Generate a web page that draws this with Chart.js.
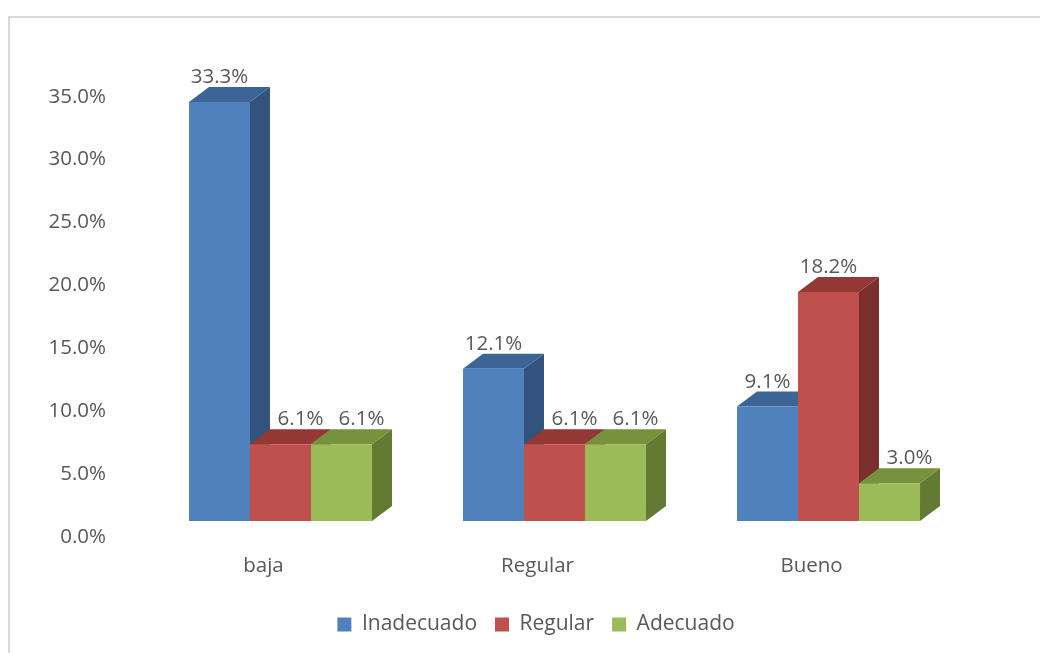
<!DOCTYPE html>
<html><head><meta charset="utf-8">
<script src="https://cdn.jsdelivr.net/npm/chart.js@4.4.0/dist/chart.umd.min.js"></script>
<style>
html,body{margin:0;padding:0;background:#fff;}
#wrap{position:relative;width:1040px;height:653px;overflow:hidden;}
#frame{position:absolute;left:8px;top:16px;width:1056px;height:700px;border:2px solid #d9d9d9;box-sizing:border-box;}
canvas{position:absolute;left:0;top:0;}
</style></head><body>
<div id="wrap"><div id="frame"></div><canvas id="c" width="1040" height="653"></canvas></div>
<script>
const categories = ['baja', 'Regular', 'Bueno'];
const seriesNames = ['Inadecuado', 'Regular', 'Adecuado'];
const inadecuado = [33.3, 12.1, 9.1];
const regular = [6.1, 6.1, 18.2];
const adecuado = [6.1, 6.1, 3.0];
const yTickMin = 0, yTickMax = 35, yTickStep = 5;

const frontColors = ['#4f81bd', '#c0504d', '#9bbb59'];
const topColors = ['#3c6595', '#943836', '#76923c'];
const sideColors = ['#32537d', '#7b2f2d', '#637a33'];
const DX = 20, DY = 15;
const TXT = '#595959';
const FONT = '"Open Sans", "Noto Sans", sans-serif';
const FRAME_LEFT = 8, FRAME_WIDTH = 1056;

const depthPlugin = {
  id: 'depth3d',
  afterLayout(chart) {
    const lg = chart.legend;
    if (!lg) return;
    const target = FRAME_LEFT + FRAME_WIDTH / 2;
    const shift = target - (lg.left + lg.right) / 2;
    lg.left += shift; lg.right += shift;
  },
  beforeDatasetsDraw(chart) {
    const ctx = chart.ctx;
    ctx.save();
    chart.data.datasets.forEach((ds, i) => {
      chart.getDatasetMeta(i).data.forEach(bar => {
        const p = bar.getProps(['x', 'y', 'base', 'width'], true);
        const l = p.x - p.width / 2, r = p.x + p.width / 2;
        ctx.fillStyle = topColors[i];
        ctx.beginPath();
        ctx.moveTo(l, p.y); ctx.lineTo(l + DX, p.y - DY); ctx.lineTo(r + DX, p.y - DY); ctx.lineTo(r, p.y);
        ctx.closePath(); ctx.fill();
        ctx.fillStyle = sideColors[i];
        ctx.beginPath();
        ctx.moveTo(r, p.y); ctx.lineTo(r + DX, p.y - DY); ctx.lineTo(r + DX, p.base - DY); ctx.lineTo(r, p.base);
        ctx.closePath(); ctx.fill();
      });
    });
    ctx.restore();
  },
  afterDatasetsDraw(chart) {
    const ctx = chart.ctx;
    ctx.save();
    ctx.font = '20.5px ' + FONT;
    ctx.fillStyle = TXT;
    ctx.textAlign = 'center';
    ctx.textBaseline = 'alphabetic';
    const all = chart.data.datasets.map(d => d.data);
    chart.data.datasets.forEach((ds, i) => {
      chart.getDatasetMeta(i).data.forEach((bar, j) => {
        const v = ds.data[j];
        const maxInCat = Math.max(...all.map(a => a[j]));
        const shift = (i === 0 || v === maxInCat) ? 0 : DX;
        const p = bar.getProps(['x', 'y'], true);
        ctx.fillText(v.toFixed(1) + '%', p.x + shift, p.y - DY - 4);
      });
    });
    ctx.restore();
  }
};

const seriesValues = [inadecuado, regular, adecuado];
new Chart(document.getElementById('c'), {
  type: 'bar',
  data: {
    labels: categories,
    datasets: seriesNames.map((n, i) => ({
      label: n,
      data: seriesValues[i],
      backgroundColor: frontColors[i],
      borderWidth: 0,
      categoryPercentage: 0.668,
      barPercentage: 1.0
    }))
  },
  options: {
    responsive: false,
    animation: false,
    devicePixelRatio: 1,
    layout: { padding: { left: 0, right: 74.5, top: 80.7, bottom: 8 } },
    plugins: {
      legend: {
        position: 'bottom',
        labels: {
          boxWidth: 14, boxHeight: 14, padding: 18,
          color: TXT, font: { family: FONT, size: 21 }
        }
      },
      tooltip: { enabled: false }
    },
    scales: {
      x: {
        grid: { display: false, drawTicks: false },
        border: { display: false },
        ticks: { color: TXT, font: { family: FONT, size: 20.5 }, padding: 33, labelOffset: -17 },
        afterFit(s) { s.height = 75; }
      },
      y: {
        min: yTickMin, max: yTickMax,
        grid: { display: false, drawTicks: false },
        border: { display: false },
        ticks: {
          stepSize: yTickStep,
          color: TXT, font: { family: FONT, size: 20.5 }, padding: 37.5, labelOffset: 16,
          callback: v => Number(v).toFixed(1) + '%'
        },
        afterFit(s) { s.width = 143.5; }
      }
    }
  },
  plugins: [depthPlugin]
});
</script>
</body></html>
